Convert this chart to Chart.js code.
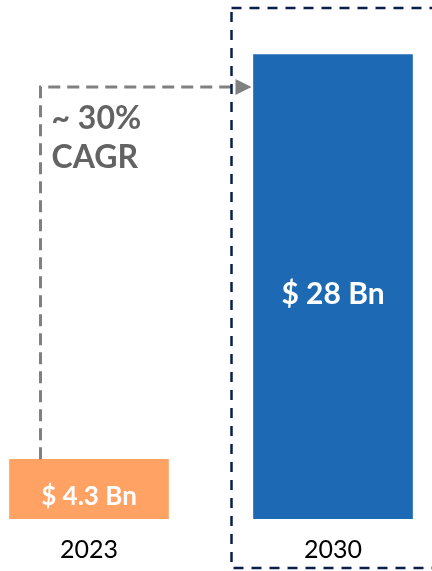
<!DOCTYPE html>
<html>
<head>
<meta charset="utf-8">
<script src="https://cdn.jsdelivr.net/npm/chart.js@4.4.1/dist/chart.umd.min.js"></script>
<style>
  html, body { margin: 0; padding: 0; background: #fff; }
  #wrap { position: relative; width: 432px; height: 571px; overflow: hidden; }
  #chart { position: absolute; left: -33px; top: 0; }
</style>
</head>
<body>
<div id="wrap"><canvas id="chart" width="488" height="593"></canvas></div>
<script>
// Data
const years = ["2023", "2030"];
const marketSize = [4.3, 28];
const valueLabels = ["$ 4.3 Bn", "$ 28 Bn"];
const barColors = ["#FFA264", "#1E69B4"];
const cagrLines = ["~ 30%", "CAGR"];

const FONT = "Lato, 'Open Sans', sans-serif";

// value labels inside bars
const barLabels = {
  id: "barLabels",
  afterDatasetsDraw(chart) {
    const ctx = chart.ctx;
    const meta = chart.getDatasetMeta(0);
    ctx.save();
    ctx.fillStyle = "#fff";
    ctx.textAlign = "center";
    ctx.textBaseline = "middle";
    meta.data.forEach((bar, i) => {
      const size = i === 0 ? 26 : 30;
      ctx.font = "bold " + size + "px " + FONT;
      ctx.fillText(valueLabels[i], bar.x, (bar.y + bar.base) / 2 + 1);
    });
    ctx.restore();
  },
};

// CAGR arrow + dashed box round the 2030 bar
const growthArrow = {
  id: "growthArrow",
  afterDraw(chart) {
    const ctx = chart.ctx;
    const [b0, b1] = chart.getDatasetMeta(0).data;
    const w1 = b1.width;
    const left0 = b0.x - b0.width / 2;
    const left1 = b1.x - w1 / 2;
    const ax = left0 + 31;
    const ay = 87;
    const tip = left1 - 2;

    ctx.save();
    // arrow
    ctx.strokeStyle = "#808080";
    ctx.lineWidth = 3;
    ctx.setLineDash([12, 7]);
    ctx.beginPath();
    ctx.moveTo(ax, b0.y);
    ctx.lineTo(ax, ay);
    ctx.lineTo(tip - 16, ay);
    ctx.stroke();
    ctx.setLineDash([]);
    ctx.fillStyle = "#808080";
    ctx.beginPath();
    ctx.moveTo(tip, ay);
    ctx.lineTo(tip - 16, ay - 8);
    ctx.lineTo(tip - 16, ay + 8);
    ctx.closePath();
    ctx.fill();

    // CAGR text
    ctx.fillStyle = "#636363";
    ctx.font = "bold 32px " + FONT;
    ctx.textAlign = "left";
    ctx.textBaseline = "middle";
    ctx.fillText(cagrLines[0], ax + 11, 119);
    ctx.fillText(cagrLines[1], ax + 11, 158);

    // dashed box
    ctx.strokeStyle = "#0B1E4A";
    ctx.lineWidth = 2.5;
    ctx.setLineDash([10, 8]);
    ctx.strokeRect(left1 - 22, 8, w1 + 44, 560);
    ctx.restore();
  },
};

new Chart(document.getElementById("chart"), {
  type: "bar",
  data: {
    labels: years,
    datasets: [
      {
        data: marketSize,
        backgroundColor: barColors,
        borderWidth: 0,
        barThickness: 159,
      },
    ],
  },
  options: {
    responsive: false,
    animation: false,
    devicePixelRatio: 1,
    layout: { padding: { top: 0, left: 0, right: 0, bottom: 12 } },
    plugins: { legend: { display: false }, tooltip: { enabled: false } },
    scales: {
      x: {
        grid: { display: false, drawTicks: false },
        border: { display: false },
        ticks: { color: "#000", padding: 16, font: { family: FONT, size: 25 } },
      },
      y: { display: false, min: 0.8, max: 31.2 },
    },
  },
  plugins: [barLabels, growthArrow],
});
</script>
</body>
</html>
